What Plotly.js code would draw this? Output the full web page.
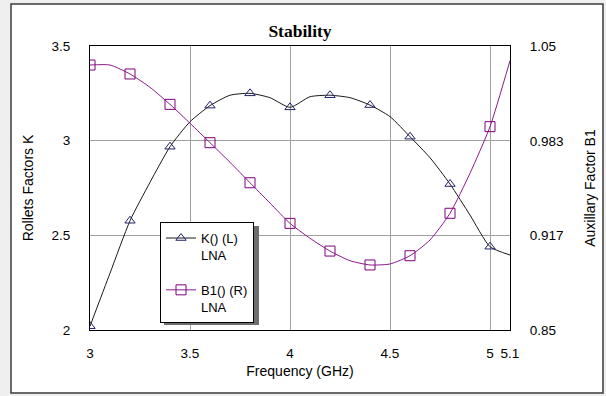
<!DOCTYPE html>
<html>
<head>
<meta charset="utf-8">
<script src="https://cdn.plot.ly/plotly-3.0.1.min.js"></script>
<style>html,body{margin:0;padding:0;background:#efefef;}#chart{width:606px;height:396px;}</style>
</head>
<body>
<div id="chart"></div>
<script>
// Frequency (GHz)
const freq = [3.0, 3.1, 3.2, 3.3, 3.4, 3.5, 3.6, 3.7, 3.8, 3.9, 4.0, 4.1, 4.2, 4.3, 4.4, 4.5, 4.6, 4.7, 4.8, 4.9, 5.0, 5.1];
// Rollets stability factor K (left axis)
const kVals = [2.02, 2.30, 2.577, 2.78, 2.968, 3.10, 3.185, 3.24, 3.25, 3.227, 3.176, 3.232, 3.24, 3.227, 3.188, 3.127, 3.021, 2.91, 2.771, 2.607, 2.44, 2.396];
// Auxiliary factor B1 (right axis)
const b1Vals = [1.0366, 1.0366, 1.0303, 1.0209, 1.0089, 0.9956, 0.9819, 0.9681, 0.9537, 0.9394, 0.9251, 0.9146, 0.9056, 0.8988, 0.8958, 0.8965, 0.9023, 0.9134, 0.9322, 0.9604, 0.9932, 1.0397];
const seriesNames = ['K() (L)<br>LNA', 'B1() (R)<br>LNA'];
const xTicks = [3, 3.5, 4, 4.5, 5, 5.1];
const yTicks = [2, 2.5, 3, 3.5];
const y2Ticks = [0.85, 0.917, 0.983, 1.05];

// markers shown at every second sample (0.2 GHz)
const markColors = (c) => freq.map((f, i) => (i % 2 === 0 && i < freq.length - 1) ? c : 'rgba(0,0,0,0)');

const font = 'Liberation Sans, Arial, sans-serif';
const tickSize = 13.5, titleSize = 14;
const traces = [
  {
    x: freq, y: kVals, name: seriesNames[0], yaxis: 'y', legendgroup: 'k',
    mode: 'lines+markers',
    line: {color: '#1a1a1a', width: 1, shape: 'spline', smoothing: 0.6},
    marker: {symbol: 'triangle-up-open', size: 9, color: markColors('#23236e'), line: {width: 1}}
  },
  {
    x: freq, y: b1Vals, name: seriesNames[1], yaxis: 'y2', legendgroup: 'b',
    mode: 'lines+markers',
    line: {color: '#8a1a8a', width: 1, shape: 'spline', smoothing: 0.6},
    marker: {symbol: 'square-open', size: 10, color: markColors('#800080'), line: {width: 1}}
  }
];

const layout = {
  width: 606, height: 396,
  margin: {l: 90, r: 96, t: 46, b: 66, pad: 0},
  paper_bgcolor: '#efefef',
  plot_bgcolor: '#ffffff',
  font: {family: font, size: 13, color: '#000'},
  title: {text: '<b>Stability</b>', font: {family: 'Liberation Serif, Times New Roman, serif', size: 17.5, color: '#000'},
          x: 0.5, xref: 'paper', xanchor: 'center', y: 1 - 31/396, yref: 'container', yanchor: 'middle'},
  showlegend: true,
  legend: {x: (160-90)/420, y: 0.38, xanchor: 'left', yanchor: 'top', bgcolor: '#ffffff', bordercolor: '#000', borderwidth: 1,
           font: {family: font, size: 13, color: '#000'}, traceorder: 'grouped', tracegroupgap: 15, valign: 'top'},
  xaxis: {
    range: [3, 5.1], tickvals: xTicks, ticktext: xTicks.map(String), ticks: '', ticklabelstandoff: 11,
    showgrid: true, gridcolor: '#a0a0a0', gridwidth: 1, zeroline: false,
    showline: true, linecolor: '#000', linewidth: 1, mirror: true,
    title: {text: 'Frequency (GHz)', font: {size: titleSize, family: font}, standoff: 5},
    tickfont: {size: tickSize, family: font}
  },
  yaxis: {
    range: [2, 3.5], tickvals: yTicks, ticktext: yTicks.map(String), ticks: '', ticklabelstandoff: 16,
    showgrid: true, gridcolor: '#a0a0a0', gridwidth: 1, zeroline: false,
    showline: true, linecolor: '#000', linewidth: 1, mirror: true,
    title: {text: 'Rollets Factors K', font: {size: titleSize, family: font}, standoff: 14},
    tickfont: {size: tickSize, family: font}
  },
  yaxis2: {
    range: [0.85, 1.05], tickvals: y2Ticks, ticktext: y2Ticks.map(String), ticks: '', ticklabelstandoff: 16,
    overlaying: 'y', side: 'right', showgrid: false, zeroline: false,
    showline: true, linecolor: '#000', linewidth: 1,
    title: {text: 'Auxillary Factor B1', font: {size: titleSize, family: font}, standoff: 22},
    tickfont: {size: tickSize, family: font}
  },
  shapes: [
    // outer frame
    {type: 'rect', xref: 'paper', yref: 'paper', x0: (11-90)/420, x1: (603-90)/420, y0: (330-393)/284, y1: (330-4)/284,
     line: {color: '#3c3c3c', width: 1.5}, fillcolor: '#ffffff', layer: 'below'},
    // legend shadow
    {type: 'rect', xref: 'paper', yref: 'paper', x0: (164-90)/420, x1: (259-90)/420, y0: (330-325)/284, y1: (330-226)/284,
     line: {width: 0}, fillcolor: '#6e6e6e', layer: 'above'}
  ]
};

Plotly.newPlot('chart', traces, layout, {staticPlot: true, displayModeBar: false});
</script>
</body>
</html>
